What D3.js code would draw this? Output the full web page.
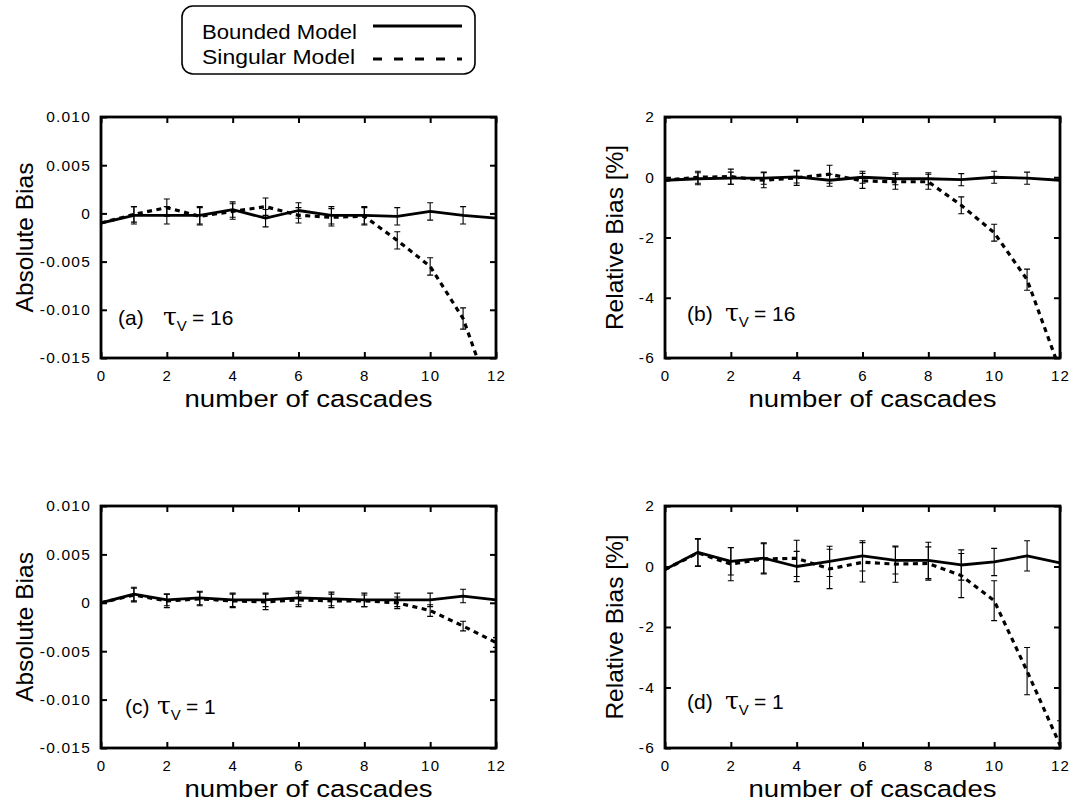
<!DOCTYPE html>
<html><head><meta charset="utf-8">
<script src="https://cdn.jsdelivr.net/npm/d3@7"></script>
<style>
body{margin:0;background:#fff;}
svg text{font-family:"Liberation Sans",Arial,Helvetica,sans-serif;fill:#000;}
</style></head><body>
<svg id="chart" width="1078" height="801"></svg>
<script>
// Cascade counts on the x axis and tick settings
const cascades = [0,1,2,3,4,5,6,7,8,9,10,11,12];
const xTicks = [0,2,4,6,8,10,12];
const absTicks = [0.010,0.005,0,-0.005,-0.010,-0.015];
const absTickLabels = ["0.010","0.005","0","-0.005","-0.010","-0.015"];
const relTicks = [2,0,-2,-4,-6];
const relTickLabels = ["2","0","-2","-4","-6"];
const seriesNames = ["Bounded Model","Singular Model"];

// (a) absolute bias, tau_V = 16
const absBounded16    = [-0.0010,-0.0002,-0.0002,-0.0002,0.0004,-0.0005,0.0003,-0.0002,-0.0002,-0.0003,0.0002,-0.0002,-0.0005];
const absBounded16Err = [0,0.0009,0.0009,0.0009,0.0008,0.0009,0.0008,0.0009,0.0009,0.0009,0.0009,0.0009,0];
const absSingular16    = [-0.0010,-0.0001,0.0006,-0.0003,0.0002,0.0007,-0.0002,-0.0004,-0.0003,-0.0028,-0.0055,-0.0109,-0.0205];
const absSingular16Err = [0,0.0008,0.0009,0.0009,0.0008,0.0009,0.0008,0.0009,0.0009,0.0009,0.0009,0.0011,0.0012];

// (b) relative bias [%], tau_V = 16
const relBounded16    = [-0.10,-0.05,-0.03,-0.03,0.01,-0.10,0.00,-0.05,-0.05,-0.08,0.00,-0.03,-0.10];
const relBounded16Err = [0,0.2,0.2,0.2,0.2,0.2,0.2,0.2,0.2,0.2,0.2,0.2,0];
const relSingular16    = [-0.10,0.00,0.02,-0.10,-0.02,0.10,-0.12,-0.15,-0.15,-0.93,-1.84,-3.40,-6.40];
const relSingular16Err = [0,0.2,0.25,0.25,0.25,0.3,0.25,0.25,0.25,0.28,0.28,0.35,0.4];

// (c) absolute bias, tau_V = 1
const absBounded1    = [0.0000,0.0009,0.0003,0.0005,0.0003,0.0003,0.0005,0.0004,0.0003,0.0003,0.0003,0.0007,0.0003];
const absBounded1Err = [0,0.0007,0.0006,0.0007,0.0007,0.0007,0.0007,0.0007,0.0007,0.0007,0.0007,0.0007,0];
const absSingular1    = [0.0000,0.0008,0.0002,0.0004,0.0002,0.0001,0.0003,0.0002,0.0002,0.0000,-0.0008,-0.0024,-0.0041];
const absSingular1Err = [0,0.0007,0.0007,0.0007,0.0007,0.0008,0.0007,0.0007,0.0006,0.0006,0.0006,0.0005,0.0005];

// (d) relative bias [%], tau_V = 1
const relBounded1    = [-0.10,0.47,0.17,0.28,0.00,0.17,0.35,0.20,0.20,0.05,0.15,0.35,0.12];
const relBounded1Err = [0,0.45,0.45,0.5,0.5,0.5,0.5,0.45,0.6,0.5,0.45,0.5,0];
const relSingular1    = [-0.10,0.45,0.08,0.25,0.27,-0.08,0.14,0.08,0.10,-0.30,-1.13,-3.46,-5.90];
const relSingular1Err = [0,0.45,0.55,0.5,0.6,0.65,0.65,0.6,0.55,0.73,0.66,0.78,0.8];

const panels = [
  {id:"a", left:101, top:117, right:496, bottom:358, domain:[-0.015,0.010], ticks:absTicks, labels:absTickLabels,
   yTitle:"Absolute Bias", titleX:33, bounded:absBounded16, boundedErr:absBounded16Err,
   singular:absSingular16, singularErr:absSingular16Err, tag:"(a)", tau:"16", tagDx:17, tauDx:62, tagY:325},
  {id:"b", left:665, top:117, right:1060, bottom:358, domain:[-6,2], ticks:relTicks, labels:relTickLabels,
   yTitle:"Relative Bias [%]", titleX:623, bounded:relBounded16, boundedErr:relBounded16Err,
   singular:relSingular16, singularErr:relSingular16Err, tag:"(b)", tau:"16", tagDx:22, tauDx:60, tagY:321},
  {id:"c", left:101, top:506, right:496, bottom:748, domain:[-0.015,0.010], ticks:absTicks, labels:absTickLabels,
   yTitle:"Absolute Bias", titleX:33, bounded:absBounded1, boundedErr:absBounded1Err,
   singular:absSingular1, singularErr:absSingular1Err, tag:"(c)", tau:"1", tagDx:24, tauDx:56, tagY:714},
  {id:"d", left:665, top:506, right:1060, bottom:748, domain:[-6,2], ticks:relTicks, labels:relTickLabels,
   yTitle:"Relative Bias [%]", titleX:623, bounded:relBounded1, boundedErr:relBounded1Err,
   singular:relSingular1, singularErr:relSingular1Err, tag:"(d)", tau:"1", tagDx:22, tauDx:60, tagY:709}
];

const svg = d3.select("#chart");
const defs = svg.append("defs");

panels.forEach(p => {
  const x = d3.scaleLinear().domain([0,12]).range([p.left, p.right]);
  const y = d3.scaleLinear().domain(p.domain).range([p.bottom, p.top]);
  const g = svg.append("g").attr("class","panel-" + p.id);

  defs.append("clipPath").attr("id","clip-" + p.id)
    .append("rect").attr("x", p.left).attr("y", p.top)
    .attr("width", p.right - p.left).attr("height", p.bottom - p.top);

  // inward ticks on all four sides, labels on left and bottom
  const fmt = d => p.labels[p.ticks.indexOf(d)];
  const left = g.append("g").attr("transform", `translate(${p.left},0)`)
    .call(d3.axisLeft(y).tickValues(p.ticks).tickSize(-6).tickPadding(10).tickFormat(fmt));
  const right = g.append("g").attr("transform", `translate(${p.right},0)`)
    .call(d3.axisRight(y).tickValues(p.ticks).tickSize(-6).tickFormat(""));
  const bottom = g.append("g").attr("transform", `translate(0,${p.bottom})`)
    .call(d3.axisBottom(x).tickValues(xTicks).tickSize(-6).tickPadding(12.3).tickFormat(d3.format("d")));
  const top = g.append("g").attr("transform", `translate(0,${p.top})`)
    .call(d3.axisTop(x).tickValues(xTicks).tickSize(-6).tickFormat(""));
  [left,right,bottom,top].forEach(a => {
    a.select(".domain").remove();
    a.selectAll(".tick line").attr("stroke","#000").attr("stroke-width",2);
    a.selectAll("text").attr("font-size",15.5).attr("letter-spacing","1.2px")
      .style("font-family",'"Liberation Sans",Arial,sans-serif').attr("fill","#000");
  });
  bottom.selectAll("text").attr("dy","0.71em").attr("font-size",15);

  // axis titles
  g.append("text").attr("x", (p.left + p.right)/2 + 10).attr("y", p.bottom + 49)
    .attr("text-anchor","middle").attr("font-size",24.5)
    .attr("textLength",248).attr("lengthAdjust","spacingAndGlyphs")
    .text("number of cascades");
  g.append("text").attr("transform", `translate(${p.titleX},${(p.top+p.bottom)/2}) rotate(-90)`)
    .attr("text-anchor","middle").attr("font-size",24.5).text(p.yTitle);

  // data
  const plot = g.append("g").attr("clip-path", `url(#clip-${p.id})`);
  const line = d3.line().x((d,i) => x(cascades[i])).y(d => y(d));

  const drawErr = (vals, errs) => {
    const pts = cascades.map((c,i) => ({c, v:vals[i], e:errs[i]})).filter(d => d.e > 0);
    const eg = plot.append("g").attr("stroke","#000").attr("stroke-width",1.1).attr("fill","none");
    eg.selectAll("path.err").data(pts).join("path").attr("class","err")
      .attr("d", d => {
        const cx = x(d.c), y1 = y(d.v - d.e), y2 = y(d.v + d.e);
        return `M${cx},${y1}V${y2}M${cx-3},${y1}H${cx+3}M${cx-3},${y2}H${cx+3}`;
      });
  };
  drawErr(p.singular, p.singularErr);
  drawErr(p.bounded, p.boundedErr);

  plot.append("path").datum(p.singular).attr("d", line)
    .attr("fill","none").attr("stroke","#000").attr("stroke-width",3.2)
    .attr("stroke-dasharray","5,4.5");
  plot.append("path").datum(p.bounded).attr("d", line)
    .attr("fill","none").attr("stroke","#000").attr("stroke-width",2.8)
    .attr("stroke-linejoin","round");

  // frame
  g.append("rect").attr("x", p.left).attr("y", p.top)
    .attr("width", p.right - p.left).attr("height", p.bottom - p.top)
    .attr("fill","none").attr("stroke","#000").attr("stroke-width",2.8);

  // panel tag with tau_V
  const tag = g.append("text").attr("x", p.left + p.tagDx).attr("y", p.tagY).attr("font-size",21);
  tag.append("tspan").text(p.tag);
  tag.append("tspan").attr("x", p.left + p.tauDx).attr("font-size",25)
    .style("font-family",'"DejaVu Serif","Liberation Serif",serif').text("τ");
  tag.append("tspan").attr("dy",6).attr("font-size",15).text("V");
  tag.append("tspan").attr("x", p.left + p.tauDx + 29).attr("dy",-6).text("= " + p.tau);
});

// legend
const lg = svg.append("g").attr("class","legend");
lg.append("rect").attr("x",182).attr("y",6).attr("width",293).attr("height",68).attr("rx",11)
  .attr("fill","#fff").attr("stroke","#000").attr("stroke-width",1.6);
const legendRows = [{name:seriesNames[0], y:39, ly:26, dash:null}, {name:seriesNames[1], y:64, ly:59, dash:"9,12"}];
legendRows.forEach(r => {
  lg.append("text").attr("x",202).attr("y",r.y).attr("font-size",20)
    .attr("textLength", r.name === seriesNames[0] ? 155 : 153).attr("lengthAdjust","spacingAndGlyphs").text(r.name);
  lg.append("line").attr("x1",373).attr("x2",462).attr("y1",r.ly).attr("y2",r.ly)
    .attr("stroke","#000").attr("stroke-width", r.dash ? 3 : 2.8)
    .attr("stroke-dasharray", r.dash);
});
</script>
</body></html>
